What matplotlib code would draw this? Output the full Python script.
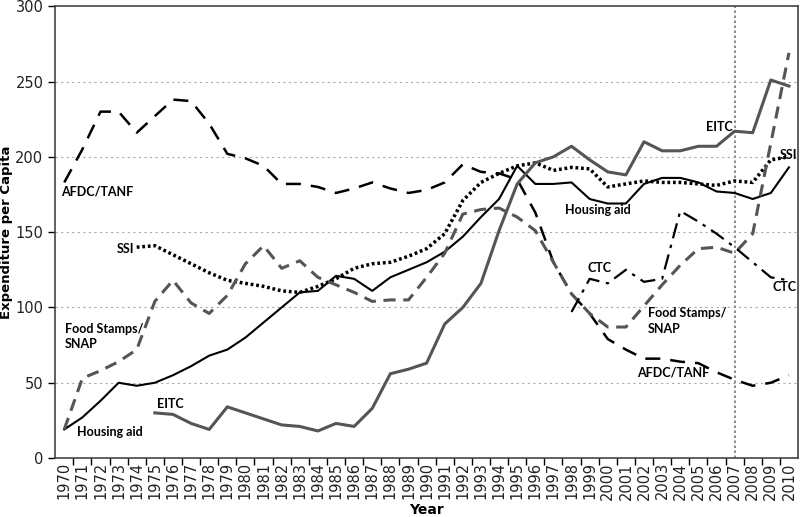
import matplotlib.pyplot as plt
import numpy as np
from matplotlib.ticker import MultipleLocator, FixedLocator

years = list(range(1970, 2011))

afdc = [183, 205, 230, 230, 216, 227, 238, 237, 222, 202, 199, 194, 182, 182,
        180, 176, 179, 183, 179, 176, 178, 183, 195, 190, 189, 185, 163, 130,
        109, 96, 79, 72, 66, 66, 64, 63, 57, 52, 48, 50, 55]
housing = [19, 27, 38, 50, 48, 50, 55, 61, 68, 72, 80, 90, 100, 110,
           111, 121, 119, 111, 120, 125, 130, 137, 147, 160, 172, 194, 182, 182,
           183, 172, 169, 169, 182, 186, 186, 183, 177, 176, 172, 176, 193]
food = [19, 53, 58, 64, 72, 104, 118, 103, 96, 108, 129, 141, 126, 131,
        120, 115, 110, 104, 105, 105, 120, 136, 162, 165, 166, 160, 151, 130,
        109, 96, 87, 87, 101, 115, 128, 139, 140, 136, 149, 209, 269]
ssi_years = list(range(1974, 2011))
ssi = [140, 141, 135, 129, 123, 118, 116, 114, 111, 110,
       114, 119, 126, 129, 130, 134, 139, 149, 171, 183, 189, 194, 196, 191,
       193, 192, 180, 182, 184, 183, 183, 182, 181, 184, 183, 198, 200]
eitc_years = list(range(1975, 2011))
eitc = [30, 29, 23, 19, 34, 30, 26, 22, 21,
        18, 23, 21, 33, 56, 59, 63, 89, 100, 116, 151, 182, 196, 200,
        207, 198, 190, 188, 210, 204, 204, 207, 207, 217, 216, 251, 247]
ctc_years = list(range(1998, 2011))
ctc = [97, 119, 116, 125, 117, 119, 164, 157, 149, 140, 130, 120, 118]

fig = plt.figure(figsize=(8, 5.17), dpi=100, facecolor='white')
ax = fig.add_axes([0.069, 0.114, 0.9285, 0.874])

gray = '#555555'
ax.plot(years, afdc, color='black', lw=1.8, dashes=(6, 4))
ax.plot(years, housing, color='black', lw=1.5)
ax.plot(ssi_years, ssi, color='black', lw=2.5, dashes=(0.8, 0.8))
ax.plot(eitc_years, eitc, color=gray, lw=2.2)
ax.plot(years, food, color=gray, lw=2.2, dashes=(4, 2.5))
ax.plot(ctc_years, ctc, color='black', lw=1.6, dashes=(7, 3, 1.5, 3))

ax.axvline(2007, color='#777777', lw=1.2, dashes=(1.5, 1.5), zorder=0)

ax.set_xlim(1969.5, 2010.5)
ax.set_ylim(0, 300)
ax.yaxis.set_major_locator(MultipleLocator(50))
for v in range(50, 300, 50):
    ax.axhline(v, color='#aaaaaa', lw=0.8, dashes=(2, 3), zorder=0)

ax.set_xticks(years)
ax.set_xticklabels([str(y) for y in years], rotation=90)
ax.xaxis.set_minor_locator(FixedLocator([y + 0.5 for y in years[:-1]]))
ax.tick_params(axis='x', which='major', length=0, pad=3)
ax.tick_params(axis='x', which='minor', length=5, width=1)
ax.tick_params(axis='y', length=5, width=1)

tick_font = ['Liberation Sans Narrow', 'DejaVu Sans']
for lab in ax.get_xticklabels() + ax.get_yticklabels():
    lab.set_family(tick_font)
    lab.set_fontsize(10.5)
    lab.set_color('#222222')

for s in ax.spines.values():
    s.set_color('#444444')
    s.set_linewidth(1.2)

ax.set_xlabel('Year', fontsize=10, fontweight='bold', family=tick_font, labelpad=2)
ax.set_ylabel('Expenditure per Capita', fontsize=9.5, fontweight='bold', family=tick_font)
ax.yaxis.set_label_coords(-0.057, 0.5)

lbl = dict(fontsize=9, fontweight='bold', family=['Lato', 'DejaVu Sans'], va='center')
ax.text(1969.83, 177, 'AFDC/TANF', ha='left', **lbl)
ax.text(1972.92, 139, 'SSI', ha='left', **lbl)
ax.text(1970.05, 86, 'Food Stamps/', ha='left', **lbl)
ax.text(1970.05, 76, 'SNAP', ha='left', **lbl)
ax.text(1970.72, 17, 'Housing aid', ha='left', **lbl)
ax.text(1975.12, 36, 'EITC', ha='left', **lbl)
ax.text(2005.43, 220, 'EITC', ha='left', **lbl)
ax.text(2009.5, 201, 'SSI', ha='left', **lbl)
ax.text(1997.66, 165, 'Housing aid', ha='left', **lbl)
ax.text(1998.87, 126, 'CTC', ha='left', **lbl)
ax.text(2009.12, 113.5, 'CTC', ha='left', **lbl)
ax.text(2002.2, 96, 'Food Stamps/', ha='left', **lbl)
ax.text(2002.2, 86, 'SNAP', ha='left', **lbl)
ax.text(2001.6, 57, 'AFDC/TANF', ha='left', **lbl)

plt.savefig('out.png', dpi=100, facecolor='white')
